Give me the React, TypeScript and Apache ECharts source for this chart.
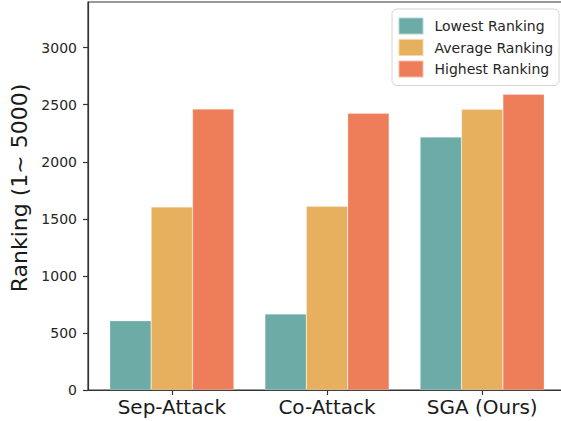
import React, { useEffect, useRef } from "react";
import * as echarts from "echarts";

const categories = ["Sep-Attack", "Co-Attack", "SGA (Ours)"];
const lowestRanking = [607, 666, 2217];
const averageRanking = [1604, 1610, 2460];
const highestRanking = [2462, 2425, 2591];
const yTicks = [0, 500, 1000, 1500, 2000, 2500, 3000];
const xPositions = [0, 1, 2];
const seriesNames = ["Lowest Ranking", "Average Ranking", "Highest Ranking"];
const colors = ["#6DABA6", "#E6B05E", "#EE7D5A"];

export default function App() {
  const ref = useRef<HTMLDivElement>(null);
  useEffect(() => {
    if (!ref.current) return;
    const chart = echarts.init(ref.current, undefined, { renderer: "svg" });
    const font = "DejaVu Sans";
    const mk = (vals: number[]) => vals.map((v, i) => [xPositions[i], v]);
    const allData = [lowestRanking, averageRanking, highestRanking];
    chart.setOption({
      animation: false,
      textStyle: { fontFamily: font },
      grid: {
        left: 88,
        top: 2,
        right: -5,
        bottom: 31,
        outerBoundsMode: "none",
        containLabel: false,
        show: true,
        borderColor: "#333",
        borderWidth: 1.2,
        backgroundColor: "transparent",
      },
      legend: {
        orient: "vertical",
        left: 392,
        top: 9,
        padding: [7.5, 6, 7, 5.5],
        itemWidth: 25,
        itemHeight: 17,
        itemGap: 2.5,
        icon: "rect",
        backgroundColor: "#fff",
        borderColor: "#d4d4d4",
        borderWidth: 1,
        borderRadius: 5,
        textStyle: {
          fontFamily: font,
          fontSize: 14,
          color: "#262626",
          padding: [0, 0, 0, 6],
        },
        data: seriesNames,
      },
      xAxis: {
        type: "value",
        min: -0.54,
        max: 2.54,
        splitLine: { show: false },
        axisLine: { show: true, onZero: false, lineStyle: { color: "#333", width: 1.2 } },
        axisTick: {
          show: true,
          length: 5,
          lineStyle: { color: "#333", width: 1.2 },
          customValues: xPositions,
        },
        axisLabel: {
          customValues: xPositions,
          formatter: (v: number) => categories[Math.round(v)] ?? "",
          fontFamily: font,
          fontSize: 20,
          color: "#1a1a1a",
          margin: 7,
        },
      },
      yAxis: {
        type: "value",
        min: 0,
        max: 3400,
        name: "Ranking (1~ 5000)",
        nameLocation: "middle",
        nameRotate: 90,
        nameGap: 55,
        nameTextStyle: {
          fontFamily: font,
          fontSize: 22,
          color: "#1a1a1a",
          padding: [0, 0, 0, 16],
        },
        splitLine: { show: false },
        axisLine: { show: true, onZero: false, lineStyle: { color: "#333", width: 1.2 } },
        axisTick: {
          show: true,
          length: 5,
          lineStyle: { color: "#333", width: 1.2 },
          customValues: yTicks,
        },
        axisLabel: {
          customValues: yTicks,
          formatter: (v: number) => String(v),
          fontFamily: font,
          fontSize: 14,
          color: "#262626",
          margin: 11,
        },
      },
      series: allData.map((vals, i) => ({
        name: seriesNames[i],
        type: "bar",
        data: mk(vals),
        barWidth: 41.4,
        barGap: "0%",
        itemStyle: {
          color: colors[i],
          borderColor: "rgba(255,255,255,0.5)",
          borderWidth: 0.5,
        },
      })),
    });
    return () => chart.dispose();
  }, []);
  return (
    <div
      ref={ref}
      style={{ position: "absolute", left: 0, top: 0, width: 561, height: 421 }}
    />
  );
}
